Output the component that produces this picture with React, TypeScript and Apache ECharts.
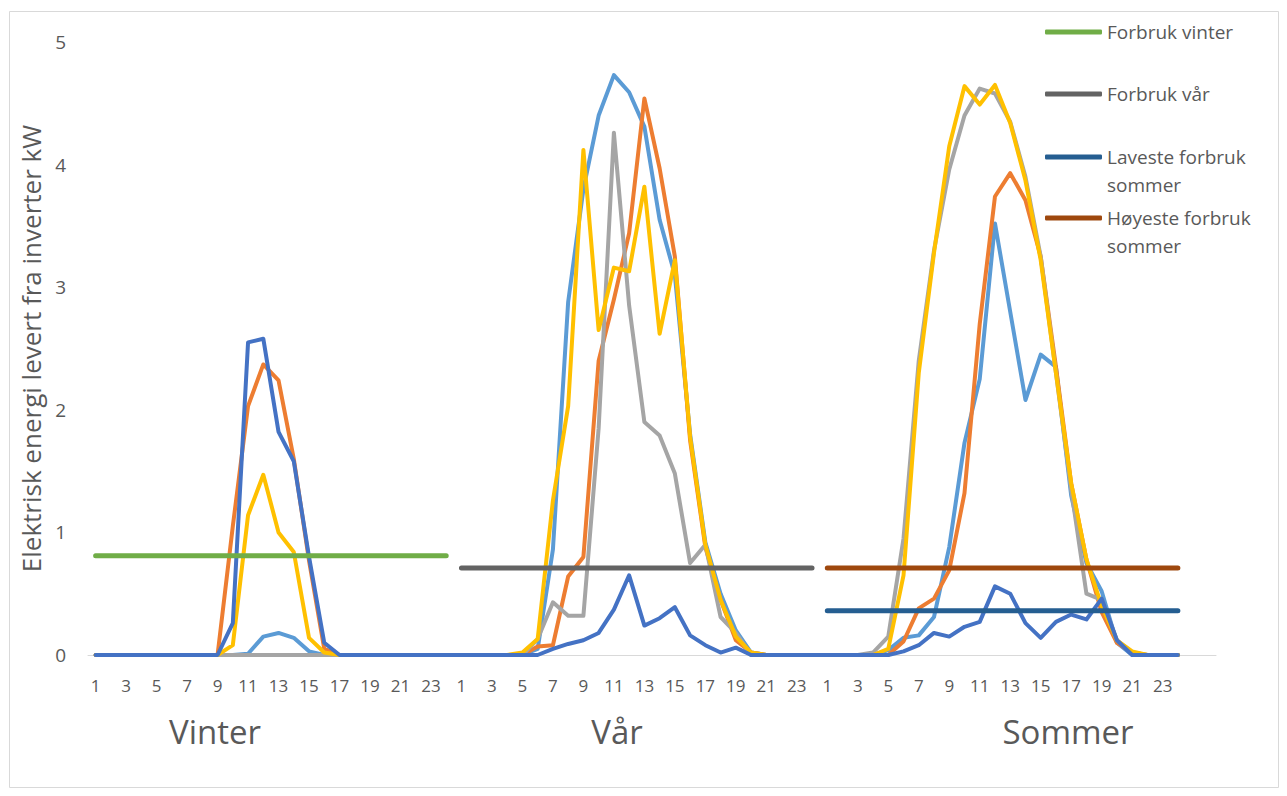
import React, { useEffect, useRef } from "react";
import * as echarts from "echarts";

// Hour labels for one season (every other label shown on the axis)
const hours = ["1","2","3","4","5","6","7","8","9","10","11","12","13","14","15","16","17","18","19","20","21","22","23","24"];
const seasons = ["Vinter", "Vår", "Sommer"];

// Production series (kW) per season, 24 hourly values
const winterLightBlue = [0,0,0,0,0,0,0,0,0,0,0.01,0.15,0.18,0.14,0.03,0,0,0,0,0,0,0,0,0];
const winterOrange = [0,0,0,0,0,0,0,0,0,1.05,2.03,2.37,2.24,1.6,0.77,0.05,0,0,0,0,0,0,0,0];
const winterGray = [0,0,0,0,0,0,0,0,0,0,0,0,0,0,0,0,0,0,0,0,0,0,0,0];
const winterYellow = [0,0,0,0,0,0,0,0,0,0.08,1.14,1.47,1.0,0.84,0.14,0.02,0,0,0,0,0,0,0,0];
const winterDarkBlue = [0,0,0,0,0,0,0,0,0,0.26,2.55,2.58,1.82,1.58,0.8,0.1,0,0,0,0,0,0,0,0];

const springLightBlue = [0,0,0,0,0,0.05,0.86,2.88,3.8,4.4,4.73,4.59,4.31,3.55,3.1,1.8,0.92,0.5,0.2,0.02,0,0,0,0];
const springOrange = [0,0,0,0,0,0.07,0.08,0.64,0.8,2.4,2.9,3.44,4.54,3.97,3.25,1.75,0.88,0.45,0.12,0.02,0,0,0,0];
const springGray = [0,0,0,0,0,0.13,0.43,0.32,0.32,1.85,4.26,2.85,1.9,1.79,1.48,0.75,0.9,0.31,0.18,0,0,0,0,0];
const springYellow = [0,0,0,0,0.02,0.13,1.26,2.03,4.12,2.65,3.16,3.13,3.82,2.62,3.22,1.78,0.9,0.45,0.15,0.02,0,0,0,0];
const springDarkBlue = [0,0,0,0,0,0,0.05,0.09,0.12,0.18,0.37,0.65,0.24,0.3,0.39,0.16,0.08,0.02,0.06,0,0,0,0,0];

const summerLightBlue = [0,0,0,0,0.04,0.14,0.16,0.31,0.88,1.73,2.25,3.52,2.8,2.08,2.45,2.35,1.3,0.75,0.52,0.1,0,0,0,0];
const summerOrange = [0,0,0,0,0,0.11,0.38,0.46,0.69,1.32,2.7,3.74,3.93,3.71,3.25,2.35,1.4,0.78,0.35,0.1,0.02,0,0,0];
const summerGray = [0,0,0,0.02,0.15,0.95,2.4,3.3,3.96,4.4,4.62,4.58,4.35,3.9,3.25,2.3,1.35,0.5,0.45,0.12,0.02,0,0,0];
const summerYellow = [0,0,0,0,0.05,0.65,2.3,3.28,4.15,4.64,4.49,4.65,4.34,3.87,3.22,2.3,1.4,0.78,0.4,0.12,0.03,0,0,0];
const summerDarkBlue = [0,0,0,0,0,0.03,0.08,0.18,0.15,0.23,0.27,0.56,0.5,0.26,0.14,0.27,0.33,0.29,0.46,0.12,0,0,0,0];

// Consumption levels (kW)
const forbrukVinter = 0.81;
const forbrukVar = 0.71;
const lavesteForbrukSommer = 0.36;
const hoyesteForbrukSommer = 0.71;

const FONT = "'Open Sans', 'Noto Sans', sans-serif";
const TEXT = "#595959";

export default function App() {
  const ref = useRef<HTMLDivElement>(null);

  useEffect(() => {
    document.body.style.margin = "0";
    if (!ref.current) return;
    const chart = echarts.init(ref.current, undefined, { renderer: "svg" });

    const categories = [...hours, ...hours, ...hours, "", ""];
    const seasonLine = (season: number, value: number) =>
      categories.map((_, i) => (Math.floor(i / 24) === season && i < 72 ? value : null));

    const prod = [
      { name: "Dag 1", color: "#5B9BD5", data: [...winterLightBlue, ...springLightBlue, ...summerLightBlue] },
      { name: "Dag 2", color: "#ED7D31", data: [...winterOrange, ...springOrange, ...summerOrange] },
      { name: "Dag 3", color: "#A5A5A5", data: [...winterGray, ...springGray, ...summerGray] },
      { name: "Dag 4", color: "#FFC000", data: [...winterYellow, ...springYellow, ...summerYellow] },
      { name: "Dag 5", color: "#4472C4", data: [...winterDarkBlue, ...springDarkBlue, ...summerDarkBlue] },
    ];
    const cons = [
      { name: "Forbruk vinter", color: "#70AD47", data: seasonLine(0, forbrukVinter) },
      { name: "Forbruk vår", color: "#636363", data: seasonLine(1, forbrukVar) },
      { name: "Laveste forbruk\nsommer", color: "#255E91", data: seasonLine(2, lavesteForbrukSommer) },
      { name: "Høyeste forbruk\nsommer", color: "#9E480E", data: seasonLine(2, hoyesteForbrukSommer) },
    ];

    const legendTops = [18, 80, 115, 176];
    const legends = cons.map((c, i) => {
      const twoLine = c.name.indexOf("\n") >= 0;
      return {
        show: true,
        data: [c.name],
        left: 1045,
        top: legendTops[i],
        padding: 0,
        orient: "vertical",
        icon: "roundRect",
        itemWidth: 57,
        itemHeight: 5,
        itemGap: 0,
        selectedMode: false,
        formatter: (name: string) => (twoLine ? "\u00a0\n" + name : name),
        textStyle: {
          fontFamily: FONT,
          fontSize: 19,
          color: TEXT,
          lineHeight: 28,
        },
      };
    });

    const seasonCenters = [215, 617, 1068];

    chart.setOption({
      animation: false,
      backgroundColor: "#ffffff",
      grid: { left: 88, right: 1287 - 1216, top: 42, bottom: 796 - 655, containLabel: false },
      legend: legends,
      xAxis: {
        type: "category",
        data: categories,
        boundaryGap: true,
        axisTick: { show: false },
        axisLine: { lineStyle: { color: "#D9D9D9", width: 1 } },
        axisLabel: { interval: 1, color: TEXT, fontFamily: FONT, fontSize: 17, margin: 22 },
      },
      yAxis: {
        type: "value",
        min: 0,
        max: 5,
        interval: 1,
        splitLine: { show: false },
        axisLine: { show: false },
        axisTick: { show: false },
        axisLabel: { color: TEXT, fontFamily: FONT, fontSize: 19, margin: 22 },
        name: "Elektrisk energi levert fra inverter kW",
        nameLocation: "middle",
        nameGap: 40,
        nameTextStyle: { color: TEXT, fontFamily: FONT, fontSize: 26 },
      },
      graphic: [
        {
          type: "rect",
          silent: true,
          shape: { x: 9.5, y: 11.5, width: 1269, height: 776 },
          style: { fill: "none", stroke: "#D9D9D9", lineWidth: 1 },
        },
        ...seasons.map((s, i) => ({
          type: "text",
          x: seasonCenters[i],
          y: 731,
          style: {
            text: s,
            fill: TEXT,
            font: `33px ${FONT}`,
            textAlign: "center",
            textVerticalAlign: "middle",
          },
        })),
      ],
      series: [
        ...prod.map((p) => ({
          name: p.name,
          type: "line",
          data: p.data,
          symbol: "none",
          color: p.color,
          lineStyle: { color: p.color, width: 4, join: "round", cap: "round" },
        })),
        ...cons.map((c) => ({
          name: c.name,
          type: "line",
          data: c.data,
          symbol: "none",
          color: c.color,
          connectNulls: false,
          lineStyle: { color: c.color, width: 5, cap: "round" },
        })),
      ],
    });

    return () => chart.dispose();
  }, []);

  return <div ref={ref} style={{ width: 1287, height: 796 }} />;
}
